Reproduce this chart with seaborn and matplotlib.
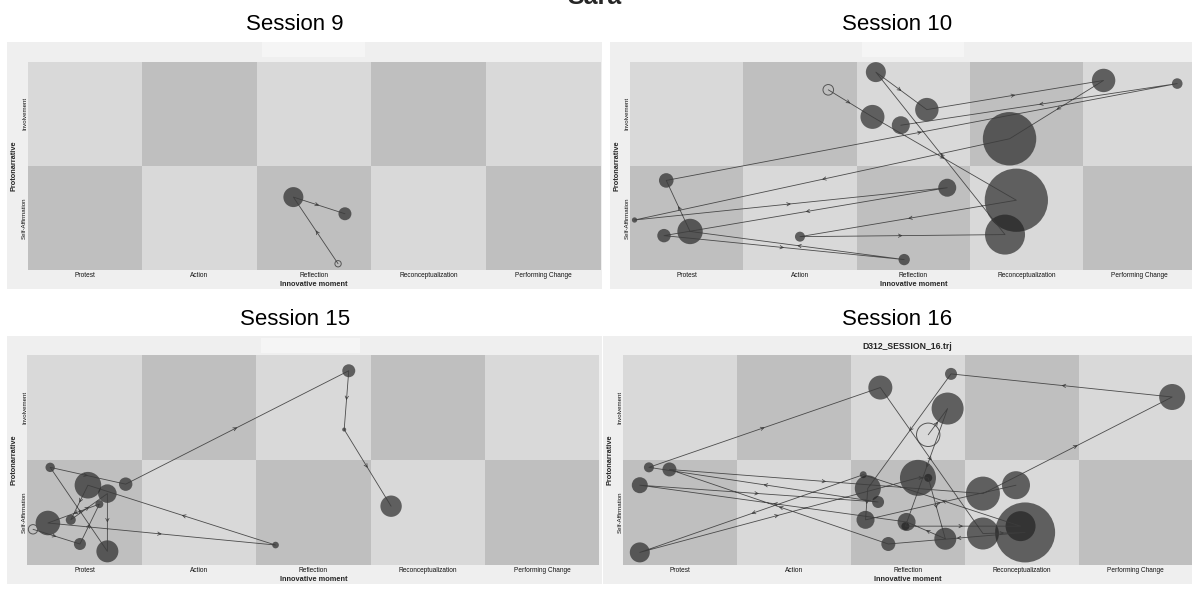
import numpy as np
import pandas as pd
import matplotlib
matplotlib.use("Agg")
import matplotlib.pyplot as plt
import seaborn as sns
from matplotlib.colors import ListedColormap
from matplotlib.patches import Rectangle

sns.set_theme(style="white")
plt.rcParams["font.family"] = ["Liberation Sans", "DejaVu Sans"]

# ---------------------------------------------------------------- data
moments = ["Protest", "Action", "Reflection", "Reconceptualization", "Performing Change"]
protonarrative = ["Self-Affirmation", "Involvement"]

# each trajectory: innovative-moment position, protonarrative position, dwell weight
s9_im = [2.71, 2.32, 2.77]
s9_pn = [0.06, 0.70, 0.54]
s9_w = [10, 100, 42]

s10_im = [1.75, 2.14, 3.41, 1.50, 3.31, 2.17, 2.62, 4.18, 3.35, 0.04, 2.80, 0.30,
          2.42, 0.53, 0.32, 4.83, 2.39]
s10_pn = [1.73, 1.47, 0.67, 0.32, 0.34, 1.90, 1.54, 1.82, 1.26, 0.48, 0.79, 0.33,
          0.10, 0.37, 0.86, 1.79, 1.39]
s10_w = [28, 144, 1024, 25, 400, 100, 137, 137, 713, 7, 81, 45, 32, 161, 53, 28, 81]

s15_im = [0.05, 0.46, 0.63, 0.18, 2.17, 0.53, 0.38, 0.70, 0.70, 0.20, 0.86, 2.81,
          2.77, 3.18]
s15_pn = [0.34, 0.20, 0.58, 0.40, 0.19, 0.76, 0.43, 0.68, 0.13, 0.93, 0.77, 1.85,
          1.29, 0.56]
s15_w = [22, 36, 16, 151, 11, 177, 25, 86, 121, 22, 45, 42, 4, 114]

s16_im = [2.68, 2.85, 2.48, 3.49, 2.11, 0.15, 2.59, 2.68, 2.83, 2.49, 0.15, 2.24,
          0.23, 2.26, 3.16, 3.53, 2.33, 0.41, 3.16, 4.82, 2.88, 2.15, 2.13, 3.45]
s16_pn = [1.24, 1.49, 0.37, 0.37, 0.86, 0.12, 0.83, 0.83, 0.25, 0.41, 0.76, 0.60,
          0.93, 1.69, 0.30, 0.31, 0.20, 0.91, 0.68, 1.60, 1.82, 0.73, 0.43, 0.76]
s16_w = [137, 256, 16, 225, 12, 100, 324, 16, 121, 81, 64, 36, 25, 144, 256, 900,
         49, 49, 289, 169, 36, 169, 81, 196]

sessions = [
    ("Session 9", s9_im, s9_pn, s9_w, ""),
    ("Session 10", s10_im, s10_pn, s10_w, ""),
    ("Session 15", s15_im, s15_pn, s15_w, ""),
    ("Session 16", s16_im, s16_pn, s16_w, "D312_SESSION_16.trj"),
]

# ---------------------------------------------------------------- layout (pixels)
W, H = 1192, 590
panels = [
    dict(bg=(6.5, 41.7, 602, 289.3), grid=(27.5, 61.7, 27.5 + 5 * 114.6, 270),
         title=(295, 30), blank=(262, 42, 365, 57)),
    dict(bg=(610, 41.7, 1210, 289.3), grid=(630, 61.7, 630 + 5 * 113.3, 270),
         title=(897, 30), blank=(862, 42, 964, 57)),
    dict(bg=(6.5, 336, 602, 584.3), grid=(27.3, 355, 27.3 + 5 * 114.4, 565),
         title=(295, 325), blank=(261, 338, 360, 353)),
    dict(bg=(603, 336, 1210, 584.3), grid=(622.7, 355, 622.7 + 5 * 114, 565),
         title=(897, 325), blank=None),
]

LIGHT, DARK = "#d9d9d9", "#bfbfbf"
BOARD = pd.DataFrame([[1, 0, 1, 0, 1], [0, 1, 0, 1, 0]],
                     index=protonarrative, columns=moments)
DOT = "#1e1e1e"
LINE = "#3c3c3c"
SMAX_W = 1000.0
SMAX = 2.0736 * SMAX_W


def rect(x0, y0, x1, y1):
    return [x0 / W, 1 - y1 / H, (x1 - x0) / W, (y1 - y0) / H]


fig = plt.figure(figsize=(W / 100, H / 100), dpi=100)
fig.patch.set_facecolor("white")

for spec, (title, xs, ys, ws, inner) in zip(panels, sessions):
    bg = fig.add_axes(rect(*spec["bg"]))
    bg.set_facecolor("#efefef")
    bg.set_xticks([])
    bg.set_yticks([])
    for sp in bg.spines.values():
        sp.set_visible(False)

    if spec["blank"] is not None:
        x0, y0, x1, y1 = spec["blank"]
        fig.add_artist(Rectangle((x0 / W, 1 - y1 / H), (x1 - x0) / W, (y1 - y0) / H,
                                 transform=fig.transFigure, facecolor="#f5f5f5",
                                 edgecolor="none", zorder=1))

    ax = fig.add_axes(rect(*spec["grid"]))
    sns.heatmap(BOARD, ax=ax, cmap=ListedColormap([LIGHT, DARK]), vmin=0, vmax=1,
                cbar=False, linewidths=0)
    ax.set_xlim(0, 5)
    ax.set_ylim(0, 2)

    xs = np.asarray(xs, float)
    ys = np.asarray(ys, float)
    ws = np.asarray(ws, float)

    # visited moments after the opening one
    sns.scatterplot(x=xs[1:], y=ys[1:], size=ws[1:], sizes=(0, SMAX),
                    size_norm=(0, SMAX_W), color=DOT, alpha=0.65, linewidth=0,
                    legend=False, ax=ax, zorder=3)
    # opening moment, hollow
    ax.scatter(xs[:1], ys[:1], s=2.0736 * ws[:1], facecolors="none",
               edgecolors="#555555", linewidths=0.7, zorder=4)

    # trajectory
    sns.lineplot(x=xs, y=ys, sort=False, estimator=None, color=LINE, lw=0.6,
                 alpha=0.9, ax=ax, zorder=5)

    # direction chevrons at segment midpoints
    for i in range(len(xs) - 1):
        p0 = np.array([xs[i], ys[i]])
        p1 = np.array([xs[i + 1], ys[i + 1]])
        d = p1 - p0
        n = np.hypot(*d)
        if n == 0:
            continue
        mid = (p0 + p1) / 2
        tail = mid - 0.03 * d / n
        ax.annotate("", xy=mid, xytext=tail,
                    arrowprops=dict(arrowstyle="->", color=LINE, lw=0.5,
                                    mutation_scale=6, shrinkA=0, shrinkB=0),
                    zorder=6)

    ax.set_xticks(np.arange(5) + 0.5)
    ax.set_xticklabels(moments, fontsize=4.7, rotation=0, color="#111111")
    ax.set_yticks([0.5, 1.5])
    ax.set_yticklabels(protonarrative, fontsize=4.4, rotation=90, va="center",
                       color="#111111")
    ax.tick_params(axis="x", length=0, pad=1.6)
    ax.tick_params(axis="y", length=0, pad=0.3)
    ax.set_xlabel("Innovative moment", fontsize=5.3, fontweight="bold", labelpad=1.2)
    ax.set_ylabel("Protonarrative", fontsize=5.3, fontweight="bold", labelpad=3.0)
    if inner:
        ax.set_title(inner, fontsize=6.2, fontweight="bold", pad=4.5)
    for sp in ax.spines.values():
        sp.set_visible(False)

    tx, tb = spec["title"]
    fig.text(tx / W, 1 - tb / H, title, ha="center", va="baseline", fontsize=16,
             color="black")

fig.text(594 / W, 1 - 4 / H, "Sara", ha="center", va="baseline", fontsize=18,
         fontweight="bold")

fig.savefig("out.png", dpi=100)
